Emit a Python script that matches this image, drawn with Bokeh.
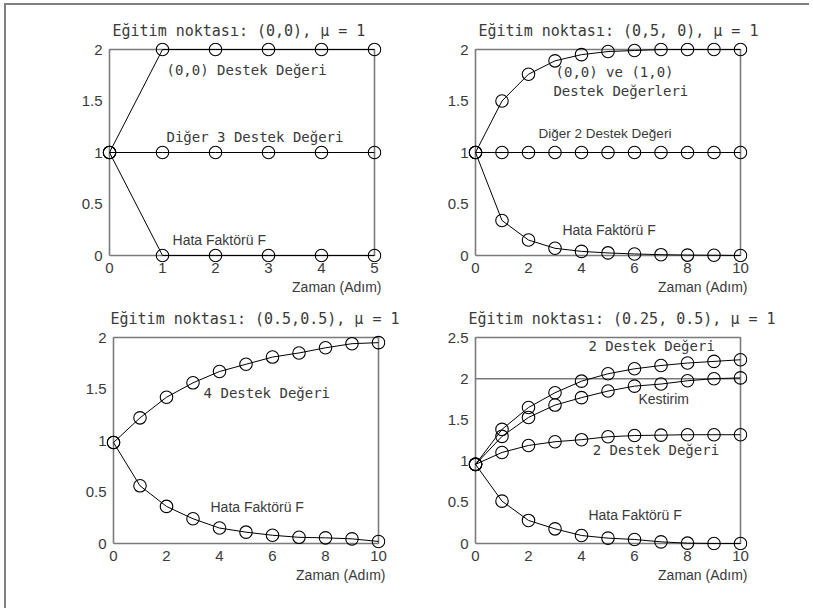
from bokeh.plotting import figure
from bokeh.layouts import column, row
from bokeh.models import Label, Title, FixedTicker, Range1d
from bokeh.embed import file_html
from bokeh.resources import INLINE

# ---- data -------------------------------------------------------------
# time steps
adim_5 = [0, 1, 2, 3, 4, 5]
adim_10 = [0, 1, 2, 3, 4, 5, 6, 7, 8, 9, 10]

# panel 1: training point (0,0)
p1_destek_00 = [1, 2, 2, 2, 2, 2]
p1_diger_3 = [1, 1, 1, 1, 1, 1]
p1_hata = [1, 0, 0, 0, 0, 0]

# panel 2: training point (0,5, 0)
p2_destek_00_10 = [1.0, 1.5, 1.76, 1.89, 1.95, 1.98, 1.99, 2.0, 2.0, 2.0, 2.0]
p2_diger_2 = [1, 1, 1, 1, 1, 1, 1, 1, 1, 1, 1]
p2_hata = [1.0, 0.34, 0.15, 0.07, 0.04, 0.025, 0.015, 0.008, 0.004, 0.002, 0.0]

# panel 3: training point (0.5,0.5)
p3_destek_4 = [0.98, 1.22, 1.42, 1.56, 1.67, 1.74, 1.81, 1.85, 1.90, 1.94, 1.95]
p3_hata = [0.98, 0.56, 0.36, 0.24, 0.15, 0.11, 0.08, 0.06, 0.055, 0.045, 0.02]

# panel 4: training point (0.25, 0.5)
p4_destek_ust = [0.96, 1.385, 1.65, 1.83, 1.97, 2.06, 2.12, 2.16, 2.19, 2.21, 2.23]
p4_kestirim = [0.96, 1.30, 1.53, 1.68, 1.77, 1.85, 1.91, 1.935, 1.975, 2.0, 2.01]
p4_destek_alt = [0.96, 1.105, 1.19, 1.235, 1.26, 1.295, 1.31, 1.315, 1.32, 1.32, 1.32]
p4_hata = [0.96, 0.514, 0.28, 0.178, 0.097, 0.065, 0.049, 0.02, 0.004, 0.0, 0.0]
p4_hedef = [2.0, 2.0]

# tick values and labels
x_ticks_5 = [0, 1, 2, 3, 4, 5]
x_labels_5 = ["0", "1", "2", "3", "4", "5"]
x_ticks_10 = [0, 2, 4, 6, 8, 10]
x_labels_10 = ["0", "2", "4", "6", "8", "10"]
y_ticks_2 = [0, 0.5, 1, 1.5, 2]
y_labels_2 = ["0", "0.5", "1", "1.5", "2"]
y_ticks_25 = [0, 0.5, 1, 1.5, 2, 2.5]
y_labels_25 = ["0", "0.5", "1", "1.5", "2", "2.5"]

# ---- styling ----------------------------------------------------------
PAD = 7            # room around the box so edge markers stay whole
FRAME_W = 265
FRAME_H = 206
TEXT = "#3a3a3a"
BOX = "#7a7a7a"
MONO = "DejaVu Sans Mono"
SANS = "Liberation Sans"


def panel(title, xt, xl, yt, yl, left, right, top, bottom, title_offset):
    x_end, y_end = xt[-1], yt[-1]
    xpad = PAD * x_end / FRAME_W
    ypad = PAD * y_end / FRAME_H
    p = figure(width=left + FRAME_W + 2 * PAD + right,
               height=top + FRAME_H + 2 * PAD + bottom,
               x_range=Range1d(-xpad, x_end + xpad),
               y_range=Range1d(-ypad, y_end + ypad),
               min_border_left=left, min_border_right=right,
               min_border_top=top, min_border_bottom=bottom,
               output_backend="svg", toolbar_location=None,
               title=title)
    p.title.align = "left"
    p.title.offset = title_offset
    p.title.standoff = 5
    p.title.text_font = MONO
    p.title.text_font_size = "15px"
    p.title.text_font_style = "normal"
    p.title.text_color = TEXT

    p.grid.visible = False
    p.outline_line_color = None
    p.background_fill_color = "white"
    p.border_fill_color = "white"

    for ax, ticks, labels in ((p.xaxis[0], xt, xl), (p.yaxis[0], yt, yl)):
        ax.ticker = FixedTicker(ticks=ticks)
        ax.major_label_overrides = {t: s for t, s in zip(ticks, labels)}
        ax.axis_line_color = None
        ax.major_tick_in = 0
        ax.major_tick_out = 0
        ax.minor_tick_line_color = None
        ax.major_label_text_font = SANS
        ax.major_label_text_font_size = "15px"
        ax.major_label_text_color = TEXT
    p.xaxis.major_label_standoff = 0
    p.yaxis.major_label_standoff = 0

    p.add_layout(Title(text="Zaman (Adım)", align="right", standoff=3,
                       text_font=SANS, text_font_size="14px",
                       text_font_style="normal", text_color=TEXT), "below")

    # plot box
    p.line([0, x_end, x_end, 0, 0], [0, 0, y_end, y_end, 0],
           line_color=BOX, line_width=1.6)
    return p


def series(p, x, y):
    p.line(x, y, line_color="black", line_width=1)
    p.scatter(x, y, marker="circle", size=12.5, fill_color=None,
              line_color="black", line_width=1.1)


def note(p, x, y, text, font=MONO, size="14px"):
    p.add_layout(Label(x=x, y=y, text=text, text_font=font,
                       text_font_size=size, text_color=TEXT,
                       text_align="left", text_baseline="middle"))


p1 = panel("Eğitim noktası: (0,0), μ = 1", x_ticks_5, x_labels_5,
           y_ticks_2, y_labels_2, 96, 19, 37, 38, 10)
series(p1, adim_5, p1_destek_00)
series(p1, adim_5, p1_diger_3)
series(p1, adim_5, p1_hata)
note(p1, 1.075, 1.80, "(0,0) Destek Değeri")
note(p1, 1.075, 1.155, "Diğer 3 Destek Değeri")
note(p1, 1.19, 0.155, "Hata Faktörü F", SANS)

p2 = panel("Eğitim noktası: (0,5, 0), μ = 1", x_ticks_10, x_labels_10,
           y_ticks_2, y_labels_2, 68, 64, 37, 38, 10)
series(p2, adim_10, p2_destek_00_10)
series(p2, adim_10, p2_diger_2)
series(p2, adim_10, p2_hata)
note(p2, 3.02, 1.777, "(0,0) ve (1,0)")
note(p2, 2.94, 1.60, "Destek Değerleri")
note(p2, 2.38, 1.184, "Diğer 2 Destek Değeri", SANS, "13.5px")
note(p2, 3.28, 0.243, "Hata Faktörü F", SANS)

p3 = panel("Eğitim noktası: (0.5,0.5), μ = 1", x_ticks_10, x_labels_10,
           y_ticks_2, y_labels_2, 100, 15, 30, 60, 4)
series(p3, adim_10, p3_destek_4)
series(p3, adim_10, p3_hata)
note(p3, 3.40, 1.46, "4 Destek Değeri")
note(p3, 3.66, 0.35, "Hata Faktörü F", SANS)

p4 = panel("Eğitim noktası: (0.25, 0.5), μ = 1", x_ticks_10, x_labels_10,
           y_ticks_25, y_labels_25, 68, 64, 30, 60, 0)
p4.line([x_ticks_10[0], x_ticks_10[-1]], p4_hedef, line_color=BOX, line_width=1.6)
series(p4, adim_10, p4_destek_ust)
series(p4, adim_10, p4_kestirim)
series(p4, adim_10, p4_destek_alt)
series(p4, adim_10, p4_hata)
note(p4, 4.26, 2.40, "2 Destek Değeri")
note(p4, 6.15, 1.75, "Kestirim", SANS)
note(p4, 4.42, 1.13, "2 Destek Değeri")
note(p4, 4.26, 0.34, "Hata Faktörü F", SANS)

layout = column(row(p1, p2), row(p3, p4))
# thin page rule on the left and top edges
layout.styles = {"box-shadow": "-2px -2px 0 0 #808080",
                 "margin-left": "6px", "margin-top": "5px"}

open("out.html", "w").write(file_html(layout, INLINE))
